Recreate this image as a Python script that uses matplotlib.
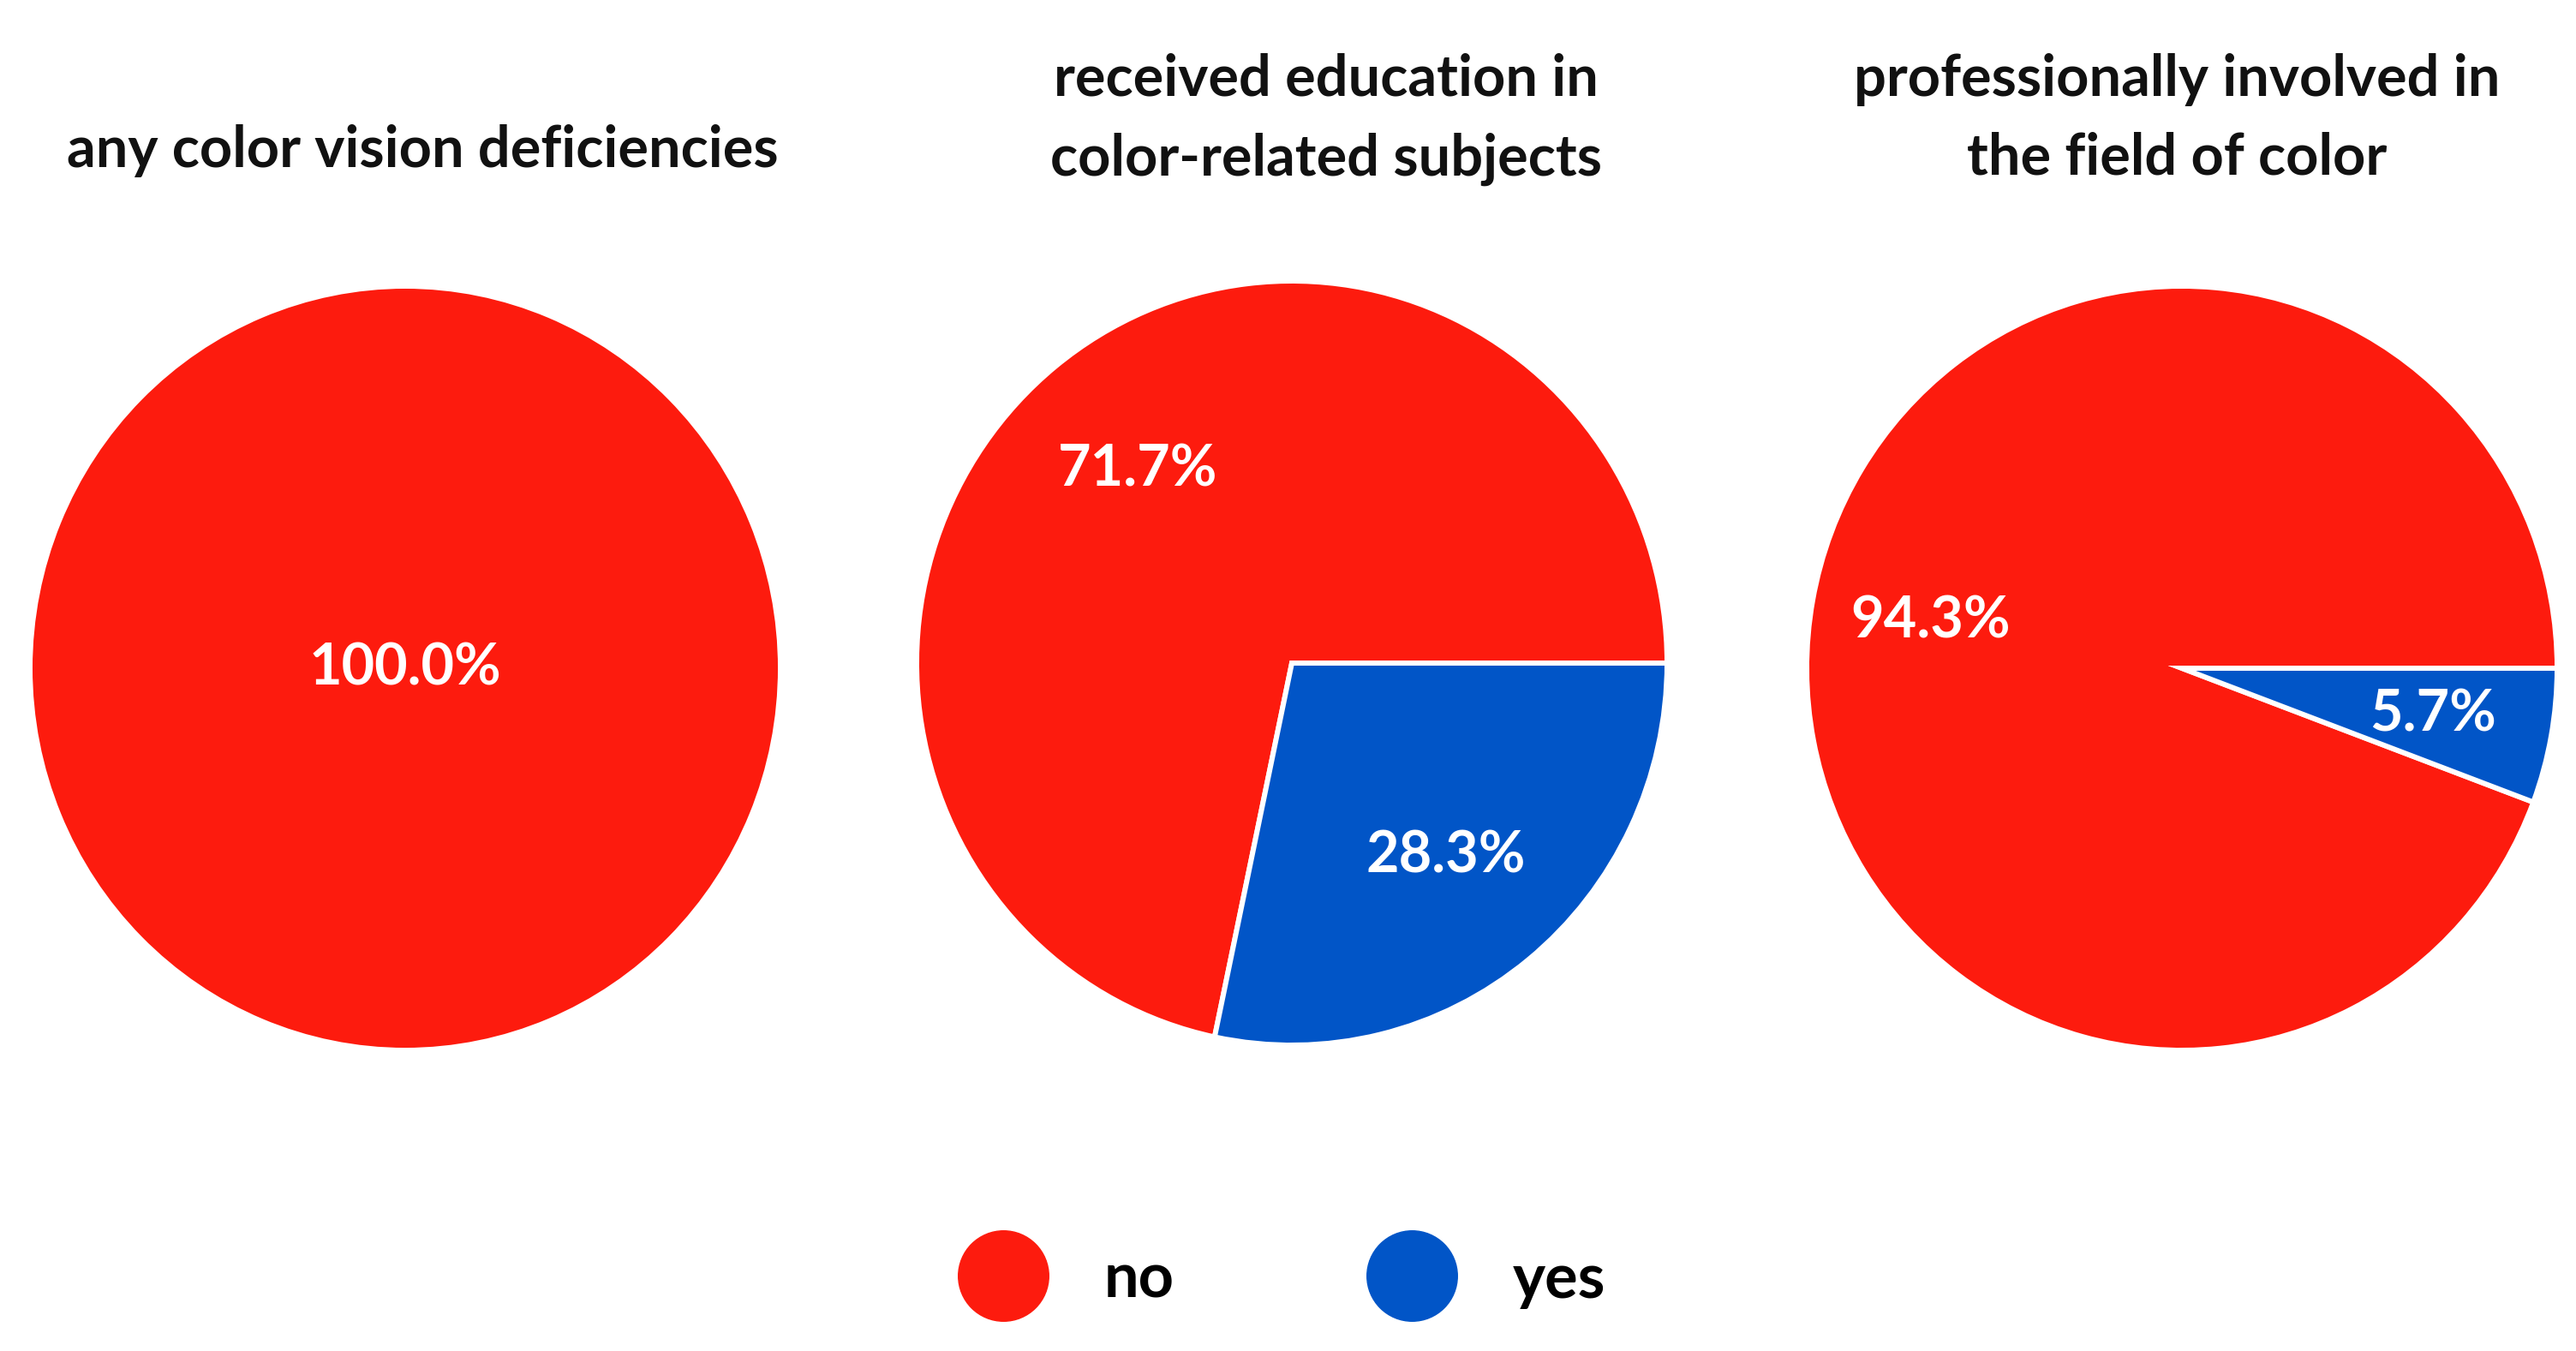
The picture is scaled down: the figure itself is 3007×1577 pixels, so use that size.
import matplotlib.pyplot as plt
from matplotlib.lines import Line2D

# Lato Bold, fall back to DejaVu
plt.rcParams['font.family'] = ['Lato', 'DejaVu Sans']

# data
categories = ['no', 'yes']
titles = [
    ['any color vision deficiencies'],
    ['received education in', 'color-related subjects'],
    ['professionally involved in', 'the field of color'],
]
no_share = [100.0, 71.7, 94.3]
yes_share = [0.0, 28.3, 5.7]
colors = ['#FD1B0E', '#0155C7']

# layout (pixels, origin top-left)
W, H = 3007, 1577
centers_x = [473, 1508, 2547]
centers_y = [780, 774, 780]
rx, ry = 438, 446
pct_dist = [0.0, 0.65, 0.68]
title_x = [493, 1548, 2541]
title_base = [[195], [112, 205], [112, 204]]

fig = plt.figure(figsize=(W / 100, H / 100), dpi=100)
fig.patch.set_facecolor('white')

for i in range(3):
    ax = fig.add_axes([(centers_x[i] - rx) / W, 1 - (centers_y[i] + ry) / H,
                       2 * rx / W, 2 * ry / H])
    vals = [no_share[i], yes_share[i]]
    keep = [k for k, v in enumerate(vals) if v > 0]
    ax.pie([vals[k] for k in keep],
           colors=[colors[k] for k in keep],
           startangle=0, counterclock=True,
           autopct='%.1f%%', pctdistance=pct_dist[i],
           wedgeprops=dict(edgecolor='white', linewidth=4.3),
           textprops=dict(color='white', fontsize=48, fontweight='bold'))
    ax.set_aspect('auto')
    ax.set_xlim(-1, 1)
    ax.set_ylim(-1, 1)
    ax.axis('off')

    for line, yb in zip(titles[i], title_base[i]):
        fig.text(title_x[i] / W, 1 - yb / H, line, ha='center', va='baseline',
                 fontsize=48, fontweight='bold', color='#111111')

handles = [Line2D([], [], marker='o', linestyle='none', markersize=76,
                  markerfacecolor=c, markeredgecolor=c) for c in colors]
fig.legend(handles, categories, loc='center',
           bbox_to_anchor=(1496 / W, 1 - 1494 / H), ncol=2, frameon=False,
           prop={'weight': 'bold', 'size': 52}, handlelength=1.47,
           handletextpad=0.9, columnspacing=3.1, borderpad=0, borderaxespad=0)

plt.savefig('out.png', dpi=100)
